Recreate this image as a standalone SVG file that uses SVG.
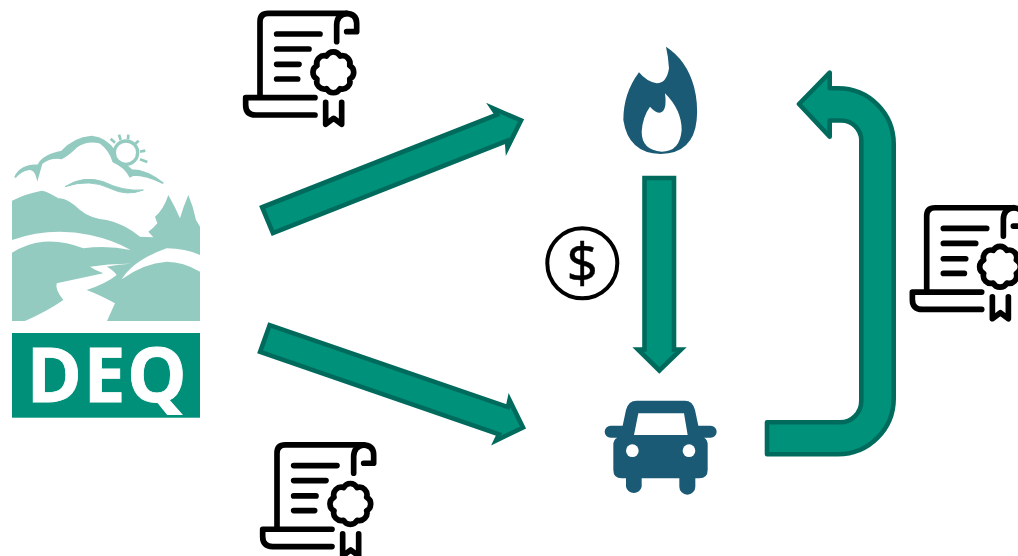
<svg xmlns="http://www.w3.org/2000/svg" width="1018" height="556" viewBox="0 0 1018 556">
<style>
.arrow{fill:#00917B;stroke:#006B5C;stroke-width:4.6;stroke-linejoin:miter;stroke-miterlimit:10}
.arrow-round{stroke-linejoin:round}
.line{fill:none;stroke:#000;stroke-width:17;stroke-linecap:round;stroke-linejoin:round}
.teal{fill:#94CBC1}
.white{fill:#fff}
.navy{fill:#1B5A75}
.deq{font-family:"Open Sans","Liberation Sans",sans-serif;font-weight:700;font-size:75px;letter-spacing:1.500px;fill:#fff;stroke:#fff;stroke-width:0.800px}
.dollar{font-family:"Noto Sans","Liberation Sans",sans-serif;font-size:55px;fill:#000;stroke:#000;stroke-width:0.400px;text-anchor:middle}
</style>
<defs>
<filter id="soft" x="-5%" y="-5%" width="110%" height="110%"><feGaussianBlur stdDeviation="0.45"/></filter>
<g id="cert">
<path class="line" d="M75 270V50Q75 25 100 25H330Q365 25 365 55V80H335"/>
<path class="line" d="M335 25Q305 30 305 60V110"/>
<path class="line" d="M125 87H255M125 132H222M125 178H192M125 222H188"/>
<path class="line" d="M240 278H32V300Q32 330 62 330H240"/>
<path class="line" transform="translate(295 202)" d="M49 -20.300A23 23 0 0 1 49 20.300A23 23 0 0 1 20.300 49A23 23 0 0 1 -20.300 49A23 23 0 0 1 -49 20.300A23 23 0 0 1 -49 -20.300A23 23 0 0 1 -20.300 -49A23 23 0 0 1 20.300 -49A23 23 0 0 1 49 -20.300Z"/>
<path class="line" d="M272 292V358L296 340L320 358V292"/>
</g>
</defs>
<rect width="1018" height="556" fill="#fff"/>

<g id="deq-logo">
<g transform="translate(0 120) scale(0.33333)" filter="url(#soft)">
<path class="teal" d="M36 242Q80 220 125 212Q145 215 175 235Q200 232 240 270Q270 295 320 300Q370 310 420 350L460 352L445 335Q460 325 472 310L465 290Q490 270 505 225Q525 260 540 295Q550 260 565 225Q580 260 588 300L600 320V603H36Z"/>
<path class="white" d="M36 360Q150 320 270 345Q340 360 392 390Q320 375 250 385Q190 360 130 365Q80 370 36 398Z"/>
<path class="white" d="M392 431Q330 430 270 440Q285 450 310 460Q240 475 170 490Q165 510 190 540Q140 575 70 605L320 605L345 550Q300 525 260 510Q320 490 350 465Q340 450 320 440Q355 432 392 431Z"/>
<path class="white" d="M365 478Q400 420 500 385Q555 385 600 405V455Q550 425 500 425Q430 430 365 478Z"/>
<path class="teal" stroke="#94CBC1" stroke-width="5" d="M45 172Q60 135 115 135Q130 105 185 95Q220 55 275 50Q320 55 345 95L345 120Q375 130 395 150Q440 150 490 190Q440 165 400 165L390 170Q375 140 340 125Q330 90 300 68Q260 58 230 80Q205 105 185 115Q150 110 125 130L112 175Q105 145 85 148Q65 150 45 172Z"/>
<circle cx="378" cy="98" r="35" fill="none" stroke="#94CBC1" stroke-width="10"/>
<path d="M332 56L345 68M357 44L362 60M385 44L384 58M416 62L405 72M436 92L420 95M442 126L420 118" fill="none" stroke="#94CBC1" stroke-width="8"/>
<path class="teal" stroke="#94CBC1" stroke-width="3" d="M195 200Q250 165 310 185Q370 215 430 210Q380 230 330 205Q270 175 195 200Z"/>
</g>
<rect x="12" y="333" width="188" height="84.700" fill="#00907A"/>
<text class="deq" x="26.500" y="401.500">DEQ</text>
</g>

<g id="connectors">
<path id="arrow-deq-flame" class="arrow" d="M262.150 207.250L497 114.600L492.500 108L521 120.500L507.500 147.500L507 140.800L272.950 233.150Z"/>
<path id="arrow-deq-car" class="arrow" d="M269.660 325.100L508 407.100L509.500 400L523 427.500L496 440.500L499 434.300L260.100 351.940Z"/>
<path id="arrow-flame-car" class="arrow" d="M644.500 178H674V349.500H681L659.300 370.500L638 349.500H644.500Z"/>
<path id="arrow-car-flame" class="arrow arrow-round" d="M767 422.300H840A21.300 21.300 0 0 0 861.300 401V140A20 20 0 0 0 841 120.500H829.700V136.700L799 104L829.700 72.700V88.300H838A55.700 55.700 0 0 1 893.700 144V398.600A55.700 55.700 0 0 1 838 454.300H767Z"/>
</g>

<g id="flame" transform="translate(540 40) scale(0.33333)">
<path class="navy" fill-rule="evenodd" d="M378 20Q440 60 462 140Q475 190 470 240Q460 340 362 342Q265 340 250 240Q250 160 297 97Q320 125 350 130Q380 130 387 85Q385 50 378 20ZM375 160Q425 210 425 270Q420 335 365 335Q305 330 305 275Q308 230 330 200Q345 218 360 218Q382 215 375 160Z"/>
</g>

<g id="car" transform="translate(540 170) scale(0.33333)">
<path class="navy" d="M290 692H435Q458 692 465 720L475 767H512A18 18 0 0 1 512 803H492Q503 808 503 825V900Q503 925 478 925H466V950A24 24 0 0 1 418 950V925H305V950A24 24 0 0 1 258 950V925H245Q220 925 220 900V825Q220 808 232 803H212A18 18 0 0 1 212 767H248L258 720Q265 692 290 692Z"/>
<path class="white" d="M295 730H432L443 795H282Z"/>
<circle class="white" cx="277" cy="842" r="19"/>
<circle class="white" cx="447" cy="842" r="19"/>
</g>

<g id="dollar">
<circle cx="582.300" cy="263.300" r="35" fill="none" stroke="#000" stroke-width="4"/>
<text class="dollar" x="582.300" y="283">$</text>
</g>

<g id="certificate-top" transform="translate(235 5) scale(0.33333)" filter="url(#soft)"><use href="#cert"/></g>
<g id="certificate-bottom" transform="translate(252 436.600) scale(0.33333)" filter="url(#soft)"><use href="#cert"/></g>
<g id="certificate-right" transform="translate(901.700 199.400) scale(0.33333)" filter="url(#soft)"><use href="#cert"/></g>
</svg>
